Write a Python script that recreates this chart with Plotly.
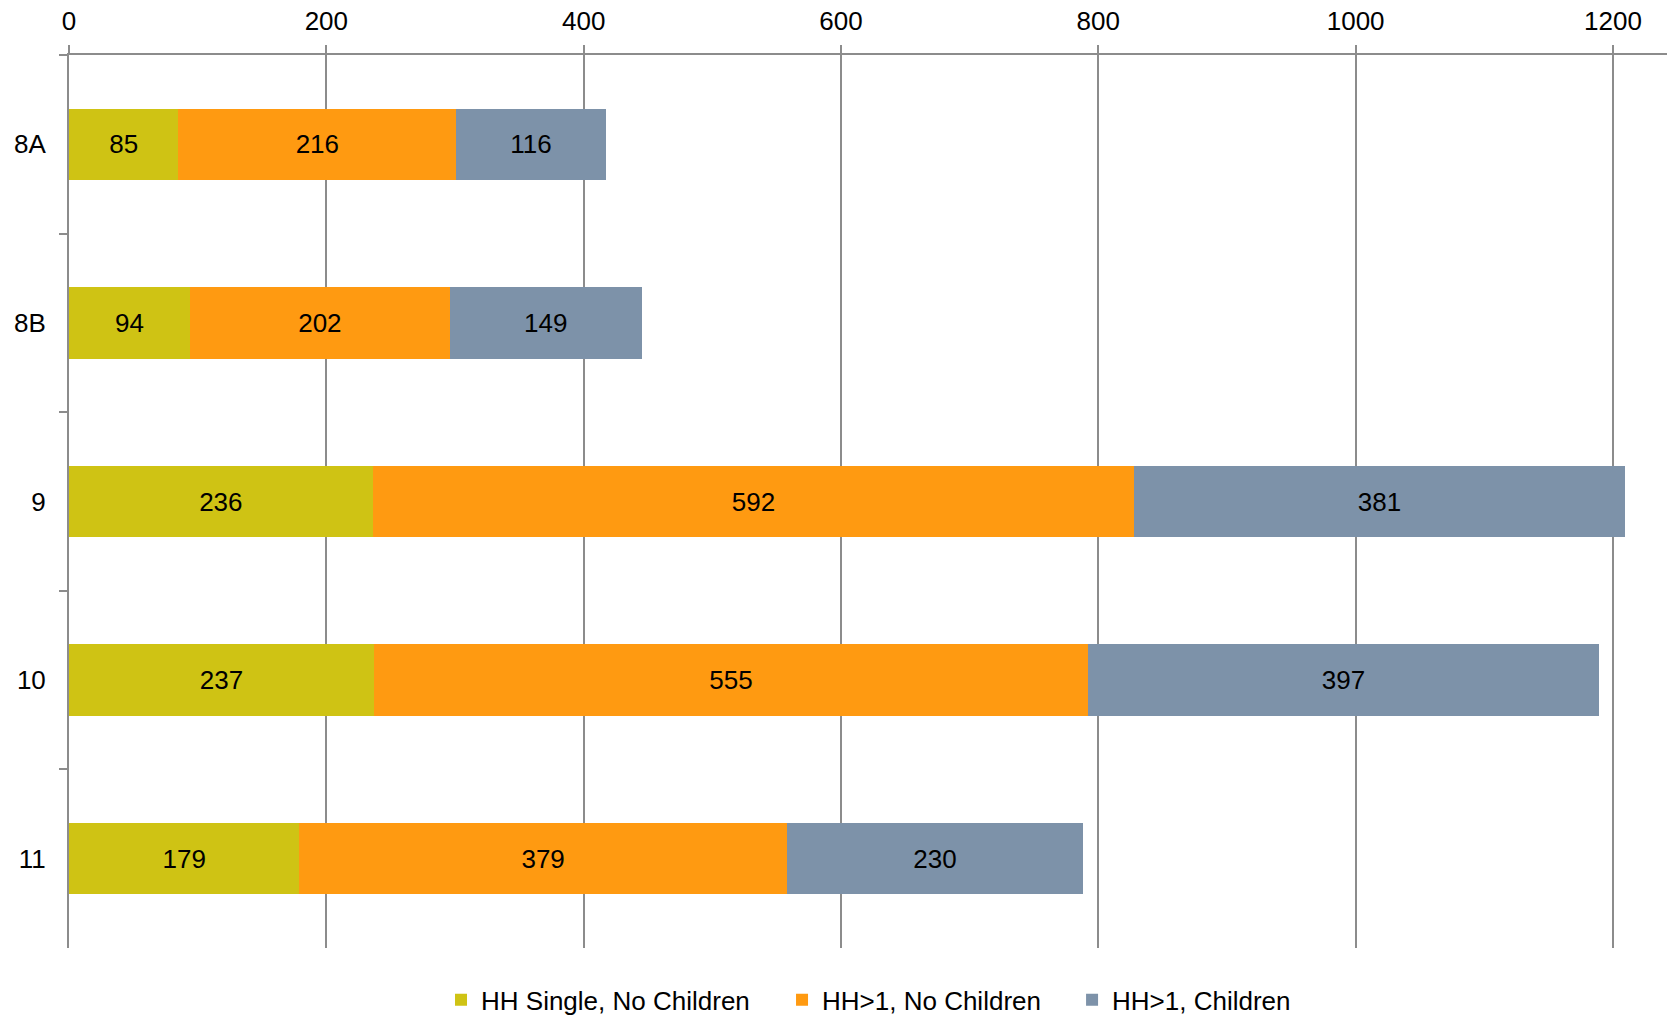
import plotly.graph_objects as go

categories = ["8A", "8B", "9", "10", "11"]
single_no_children = [85, 94, 236, 237, 179]
multi_no_children = [216, 202, 592, 555, 379]
multi_children = [116, 149, 381, 397, 230]
series_names = ["HH Single, No Children", "HH>1, No Children", "HH>1, Children"]
colors = ["#CFC314", "#FF9A11", "#7D92A9"]
x_ticks = [0, 200, 400, 600, 800, 1000, 1200]

legend_ids = ["legend", "legend2", "legend3"]
legend_x = [0.2328, 0.4462, 0.6277]

fig = go.Figure()
for name, vals, col, lg in zip(series_names,
                               [single_no_children, multi_no_children, multi_children],
                               colors, legend_ids):
    fig.add_trace(go.Bar(
        y=categories, x=vals, name=name, orientation="h",
        marker=dict(color=col, line=dict(width=0)),
        text=[str(v) for v in vals], textposition="inside",
        insidetextanchor="middle", constraintext="none",
        textfont=dict(size=26, color="black", family="Liberation Sans, Arial, sans-serif"),
        hoverinfo="x+name", legend=lg,
    ))

legend_common = dict(orientation="h", xanchor="left", y=-0.058, yanchor="middle",
                     font=dict(size=26), bgcolor="rgba(0,0,0,0)", borderwidth=0)

fig.update_layout(
    barmode="stack",
    bargap=0.6,
    width=1667, height=1016,
    margin=dict(l=69, r=0, t=55, b=68, autoexpand=False),
    plot_bgcolor="white", paper_bgcolor="white",
    font=dict(family="Liberation Sans, Arial, sans-serif", size=26, color="black"),
    showlegend=True,
    legend=dict(x=legend_x[0], **legend_common),
    legend2=dict(x=legend_x[1], **legend_common),
    legend3=dict(x=legend_x[2], **legend_common),
    xaxis=dict(side="top", range=[0, 1242], tickvals=x_ticks,
               showgrid=True, gridcolor="#8C8C8C", gridwidth=1.5,
               showline=True, linecolor="#8C8C8C", linewidth=2,
               ticks="outside", ticklen=8, tickcolor="#8C8C8C", tickwidth=1.5,
               ticklabelstandoff=5, zeroline=False,
               tickfont=dict(size=26)),
    yaxis=dict(type="category", autorange="reversed",
               showline=True, linecolor="#8C8C8C", linewidth=2,
               ticks="outside", ticklen=8, tickcolor="#8C8C8C", tickwidth=1.5,
               tickson="boundaries", showgrid=False,
               ticklabelstandoff=16, tickfont=dict(size=26)),
)

fig.write_html("out.html")
